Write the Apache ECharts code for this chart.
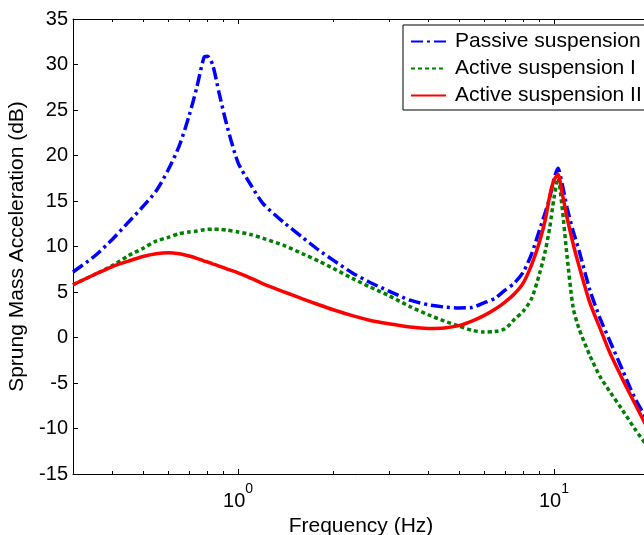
<!DOCTYPE html>
<html>
<head>
<meta charset="utf-8">
<script src="https://cdn.jsdelivr.net/npm/echarts@6/dist/echarts.min.js"></script>
<style>
html,body{margin:0;padding:0;background:#fff;}
#chart{width:644px;height:535px;}
</style>
</head>
<body>
<div id="chart"></div>
<script>
// Frequency grid (Hz)
var freq = [0.3, 0.35, 0.4, 0.45, 0.5, 0.55, 0.6, 0.65, 0.7, 0.74, 0.78, 0.8, 0.83, 0.87, 0.92, 1.0, 1.1, 1.2, 1.4, 1.6, 1.8, 2.0, 2.3, 2.6, 3.0, 3.5, 4.0, 4.5, 5.0, 5.5, 6.0, 6.5, 7.0, 7.5, 8.0, 8.5, 9.0, 9.4, 9.7, 10.0, 10.3, 10.6, 11.0, 11.5, 12.0, 13.0, 14.0, 15.0, 16.5, 18.0, 20.0];
// Sprung mass acceleration (dB)
var passive = [7.2, 8.9, 10.8, 12.7, 14.4, 16.1, 18.4, 21.0, 24.4, 27.5, 30.8, 30.9, 30.0, 26.9, 23.4, 19.2, 16.7, 14.7, 12.6, 11.0, 9.6, 8.5, 7.1, 6.1, 5.1, 4.1, 3.6, 3.35, 3.25, 3.3, 3.8, 4.3, 5.2, 6.0, 7.2, 9.2, 11.8, 13.8, 15.4, 17.4, 18.6, 17.0, 14.3, 11.7, 9.6, 5.2, 2.1, -0.3, -3.6, -6.6, -9.4];
var activeI = [5.8, 6.9, 7.9, 9.0, 9.8, 10.6, 11.0, 11.4, 11.6, 11.7, 11.85, 11.9, 11.9, 11.9, 11.8, 11.6, 11.3, 10.9, 10.1, 9.2, 8.4, 7.6, 6.5, 5.6, 4.6, 3.4, 2.5, 1.8, 1.25, 0.8, 0.6, 0.65, 0.95, 2.0, 2.9, 4.3, 7.0, 9.6, 12.1, 15.3, 17.5, 14.5, 9.0, 3.3, 1.0, -2.0, -4.3, -5.9, -8.0, -10.0, -12.2];
var activeII = [5.8, 6.9, 7.8, 8.4, 8.9, 9.2, 9.3, 9.2, 8.95, 8.7, 8.4, 8.3, 8.1, 7.85, 7.55, 7.1, 6.5, 5.9, 5.0, 4.25, 3.6, 3.05, 2.4, 1.9, 1.5, 1.15, 1.0, 1.05, 1.3, 1.8, 2.4, 3.1, 3.9, 4.8, 6.0, 8.0, 10.5, 13.0, 15.6, 17.3, 17.9, 16.0, 13.2, 10.3, 7.9, 3.8, 1.0, -1.6, -4.6, -7.2, -10.3];
var seriesNames = ['Passive suspension', 'Active suspension I', 'Active suspension II'];
var majorTicksX = [1, 10];
var minorTicksX = [0.4, 0.5, 0.6, 0.7, 0.8, 0.9, 2, 3, 4, 5, 6, 7, 8, 9];
var yTicks = [-15, -10, -5, 0, 5, 10, 15, 20, 25, 30, 35];

var FONT = '"Liberation Sans", Arial, Helvetica, sans-serif';
function pairs(vals) { return freq.map(function (f, i) { return [f, vals[i]]; }); }

var chart = echarts.init(document.getElementById('chart'), null, {renderer: 'canvas'});
var logMin = Math.log10(0.3), logMax = Math.log10(20);
var minorLog = minorTicksX.map(function (v) { return Math.log10(v); });

function lineSeries(name, vals, color, type) {
  return {
    name: name, type: 'line', data: pairs(vals), xAxisIndex: 0, yAxisIndex: 0,
    showSymbol: false, symbol: 'none', smooth: 0.25, animation: false,
    lineStyle: {color: color, width: 3.5, type: type, cap: 'butt'},
    itemStyle: {color: color}
  };
}

var option = {
  backgroundColor: '#ffffff',
  animation: false,
  grid: {left: 73, top: 19, right: -5, bottom: 61, containLabel: false, outerBoundsMode: 'none'},
  legend: {
    orient: 'vertical', left: 403, top: 25,
    backgroundColor: '#ffffff', borderColor: '#000', borderWidth: 1,
    padding: [6, 12, 4, 7], itemGap: 6, itemWidth: 35, itemHeight: 12,
    itemStyle: {opacity: 0},
    textStyle: {fontSize: 21, color: '#000', fontFamily: FONT, padding: [0, 0, 0, 4]},
    data: seriesNames
  },
  xAxis: [
    {
      type: 'log', logBase: 10, min: 0.3, max: 20, position: 'bottom',
      axisLine: {show: true, onZero: false, lineStyle: {color: '#000', width: 1}},
      axisTick: {show: true, inside: true, length: 5, lineStyle: {color: '#000'}},
      splitLine: {show: false},
      axisLabel: {
        show: true, margin: 8, showMinLabel: false, showMaxLabel: false,
        formatter: function (v) {
          var e = Math.round(Math.log10(v));
          return '{b|10}{s|' + e + '}';
        },
        rich: {
          b: {fontSize: 20, color: '#000', fontFamily: FONT, verticalAlign: 'bottom'},
          s: {fontSize: 14, color: '#000', fontFamily: FONT, verticalAlign: 'bottom', padding: [0, 0, 15, 0]}
        }
      },
      name: 'Frequency (Hz)', nameLocation: 'middle', nameGap: 35,
      nameTextStyle: {fontSize: 21, color: '#000', fontFamily: FONT}
    },
    {
      type: 'log', logBase: 10, min: 0.3, max: 20, position: 'top',
      axisLine: {show: true, onZero: false, lineStyle: {color: '#000', width: 1}},
      axisTick: {show: true, inside: true, length: 5, lineStyle: {color: '#000'}},
      axisLabel: {show: false}, splitLine: {show: false}
    },
    {
      type: 'value', min: logMin, max: logMax, position: 'bottom',
      axisLine: {show: false, onZero: false},
      axisTick: {show: true, inside: true, length: 3, customValues: minorLog, lineStyle: {color: '#000'}},
      axisLabel: {show: false}, splitLine: {show: false}
    },
    {
      type: 'value', min: logMin, max: logMax, position: 'top',
      axisLine: {show: false, onZero: false},
      axisTick: {show: true, inside: true, length: 3, customValues: minorLog, lineStyle: {color: '#000'}},
      axisLabel: {show: false}, splitLine: {show: false}
    }
  ],
  yAxis: [
    {
      type: 'value', min: -15, max: 35, interval: 5, position: 'left',
      axisLine: {show: true, onZero: false, lineStyle: {color: '#000', width: 1}},
      axisTick: {show: true, inside: true, length: 5, lineStyle: {color: '#000'}},
      splitLine: {show: false},
      axisLabel: {fontSize: 20, color: '#000', fontFamily: FONT, margin: 5},
      name: 'Sprung Mass Acceleration (dB)', nameLocation: 'middle', nameGap: 33,
      nameTextStyle: {fontSize: 21, color: '#000', fontFamily: FONT}
    },
    {
      type: 'value', min: -15, max: 35, interval: 5, position: 'right',
      axisLine: {show: true, onZero: false, lineStyle: {color: '#000', width: 1}},
      axisTick: {show: true, inside: true, length: 5, lineStyle: {color: '#000'}},
      axisLabel: {show: false}, splitLine: {show: false}
    }
  ],
  series: [
    lineSeries(seriesNames[0], passive, '#0000ff', [12, 4, 3, 4]),
    lineSeries(seriesNames[1], activeI, '#008000', [4, 3]),
    lineSeries(seriesNames[2], activeII, '#ff0000', 'solid')
  ]
};
chart.setOption(option);
</script>
</body>
</html>
